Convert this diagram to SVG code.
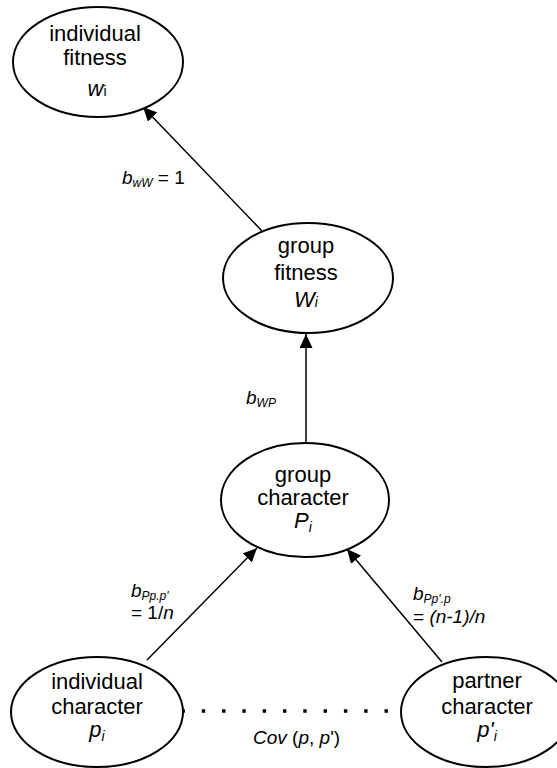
<svg xmlns="http://www.w3.org/2000/svg" width="557" height="768" viewBox="0 0 557 768">
  <style>
    .node ellipse { fill: #fff; stroke: #000; stroke-width: 2; }
    .node text { font-family: "Liberation Sans", Arial, sans-serif; font-size: 22px; fill: #000; text-anchor: middle; }
    .edge { stroke: #000; stroke-width: 1.5; fill: none; marker-end: url(#arrow); }
    .lbl { font-family: "Liberation Sans", Arial, sans-serif; font-size: 19px; fill: #000; }
    .it { font-style: italic; }
    .sub { font-size: 12px; font-style: italic; }
    .small { font-size: 14px; }
  </style>
  <defs>
    <marker id="arrow" markerUnits="userSpaceOnUse" markerWidth="16" markerHeight="14" refX="14" refY="6.5" orient="auto">
      <path d="M0,0 L14,6.5 L0,13 z" fill="#000"/>
    </marker>
  </defs>
  <rect width="557" height="768" fill="#fff"/>

  <!-- connectors -->
  <g id="connectors">
    <line class="edge" x1="262" y1="231" x2="143" y2="107"/>
    <line class="edge" x1="306" y1="443" x2="306" y2="334"/>
    <line class="edge" x1="147" y1="660" x2="257" y2="548"/>
    <line class="edge" x1="442" y1="662" x2="347" y2="549"/>
    <line x1="181.5" y1="711" x2="390" y2="711" stroke="#000" stroke-width="3.4" stroke-dasharray="3.4 16.9"/>
    <text class="lbl" x="122" y="184"><tspan class="it">b</tspan><tspan class="sub" dy="3">wW</tspan><tspan dy="-3"> = 1</tspan></text>
    <text class="lbl" x="246" y="404"><tspan class="it">b</tspan><tspan class="sub" dy="3">WP</tspan></text>
    <text class="lbl" x="131" y="597"><tspan class="it">b</tspan><tspan class="sub" dy="3">Pp.p'</tspan></text>
    <text class="lbl" x="131" y="619">= 1/<tspan class="it">n</tspan></text>
    <text class="lbl" x="413" y="600"><tspan class="it">b</tspan><tspan class="sub" dy="3">Pp'.p</tspan></text>
    <text class="lbl" x="413" y="623">= <tspan class="it">(n-1)/n</tspan></text>
    <text class="lbl" x="253" y="744" font-size="18"><tspan class="it">Cov</tspan> (<tspan class="it">p</tspan>, <tspan class="it">p</tspan>')</text>
  </g>

  <!-- nodes -->
  <g id="individual-fitness" class="node">
    <ellipse cx="98" cy="62" rx="85" ry="55"/>
    <text x="95" y="41">individual</text>
    <text x="95" y="65">fitness</text>
    <text x="97" y="96"><tspan class="it">w</tspan><tspan class="small">i</tspan></text>
  </g>
  <g id="group-fitness" class="node">
    <ellipse cx="308" cy="278" rx="85" ry="55"/>
    <text x="306" y="253">group</text>
    <text x="306" y="280">fitness</text>
    <text x="306" y="307"><tspan class="it">W</tspan><tspan class="it small">i</tspan></text>
  </g>
  <g id="group-character" class="node">
    <ellipse cx="305" cy="500" rx="84" ry="57"/>
    <text x="303" y="482">group</text>
    <text x="303" y="505">character</text>
    <text x="303" y="528"><tspan class="it">P</tspan><tspan class="it small" dy="4">i</tspan></text>
  </g>
  <g id="individual-character" class="node">
    <ellipse cx="97" cy="712" rx="86" ry="55"/>
    <text x="97" y="689">individual</text>
    <text x="97" y="714">character</text>
    <text x="97" y="737"><tspan class="it">p</tspan><tspan class="it small" dy="4">i</tspan></text>
  </g>
  <g id="partner-character" class="node">
    <ellipse cx="486" cy="712" rx="85" ry="55"/>
    <text x="487" y="688">partner</text>
    <text x="487" y="714">character</text>
    <text x="487" y="737"><tspan class="it">p'</tspan><tspan class="it small" dy="4">i</tspan></text>
  </g>
</svg>
